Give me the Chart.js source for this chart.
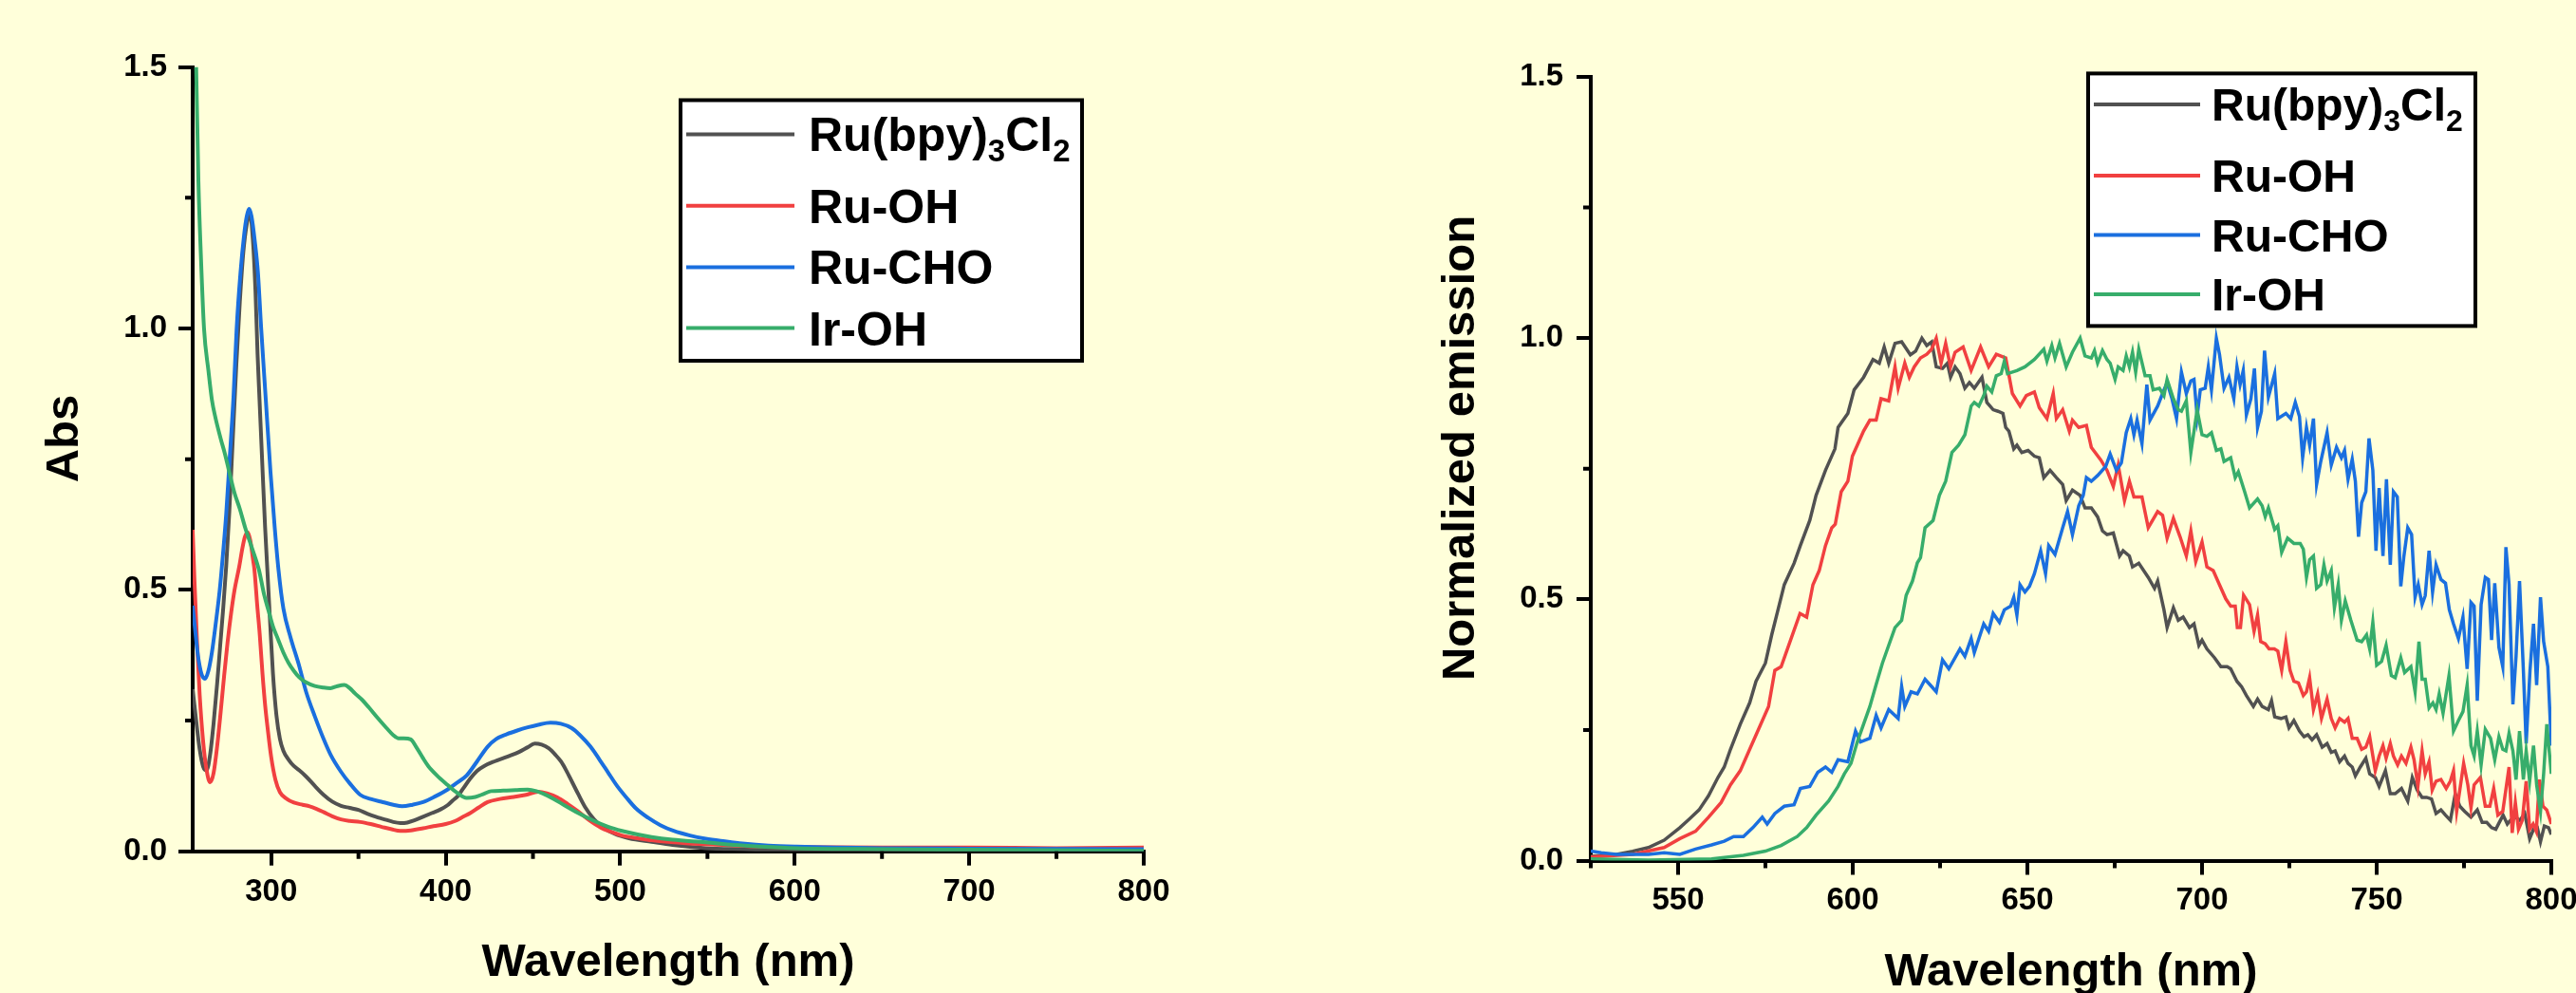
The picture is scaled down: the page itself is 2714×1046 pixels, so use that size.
<!DOCTYPE html>
<html>
<head>
<meta charset="utf-8">
<script src="https://cdn.jsdelivr.net/npm/chart.js@4.4.1/dist/chart.umd.min.js"></script>
<style>
  html, body { margin: 0; padding: 0; overflow: hidden; width: 2714px; height: 1046px; background: #FFFFDA; }
  canvas { position: absolute; top: 0; }
  #absChart { left: 0; }
  #emChart { left: 1357px; }
</style>
</head>
<body>
<canvas id="absChart" width="1357" height="1046"></canvas>
<canvas id="emChart" width="1457" height="1046"></canvas>
<script>
const FONT = '"Liberation Sans", Arial, sans-serif';

const seriesNames = ["Ru(bpy)₃Cl₂", "Ru-OH", "Ru-CHO", "Ir-OH"];
const seriesColors = ["#515151", "#F14040", "#1A6FDF", "#37AD6B"];

// UV-vis absorption: [wavelength (nm), Abs]
const absBpy = [[255,0.31],[257,0.25],[259,0.195],[261,0.162],[263,0.155],[265,0.185],[267,0.245],[269,0.32],[270.8,0.395],[272.5,0.465],[274.2,0.545],[276,0.65],[278,0.79],[280,0.93],[282,1.05],[284,1.145],[286,1.2],[287.8,1.22],[289.5,1.17],[291,1.07],[292.2,0.95],[293.3,0.864],[295.1,0.725],[296.5,0.62],[297.8,0.538],[299.5,0.43],[301,0.34],[303,0.26],[305,0.215],[307,0.192],[310,0.175],[313,0.163],[316,0.155],[320,0.143],[325,0.125],[330,0.108],[335,0.095],[340,0.087],[345,0.083],[350,0.079],[355,0.072],[360,0.066],[364,0.062],[370,0.056],[374,0.054],[378,0.055],[382,0.059],[387,0.066],[392,0.073],[397,0.08],[401,0.088],[404,0.097],[407,0.106],[410,0.12],[414,0.139],[418,0.154],[422,0.163],[428,0.172],[433,0.178],[437,0.183],[442,0.19],[447,0.199],[451,0.206],[455,0.204],[459,0.197],[463,0.184],[466,0.172],[469,0.155],[472.5,0.132],[476,0.109],[480,0.084],[485,0.061],[490,0.046],[497,0.033],[505,0.025],[518,0.018],[530,0.012],[549,0.006],[570,0.004],[600,0.002],[700,0.001],[800,0.001]];
const absOH = [[255,0.615],[256,0.52],[257.5,0.4],[259,0.3],[261,0.21],[263,0.155],[265,0.132],[267,0.15],[269,0.2],[271,0.265],[273,0.335],[275,0.4],[277,0.455],[279,0.5],[281.7,0.545],[283.5,0.58],[285,0.602],[286.5,0.61],[288,0.595],[289.5,0.56],[290.4,0.538],[292,0.47],[293.4,0.416],[295,0.34],[296.5,0.28],[298,0.234],[300,0.18],[302.4,0.137],[305,0.113],[309,0.1],[313,0.093],[318,0.089],[322,0.086],[326,0.081],[330,0.075],[335,0.067],[340,0.061],[345,0.058],[351,0.056],[357,0.052],[363,0.047],[369,0.042],[374,0.039],[380,0.04],[387,0.044],[393,0.048],[400,0.052],[405.5,0.058],[410,0.066],[414,0.073],[419,0.084],[424,0.094],[431,0.1],[439,0.104],[446,0.108],[453,0.114],[458,0.111],[464,0.103],[470,0.09],[476,0.076],[482,0.06],[489,0.045],[495,0.037],[501,0.03],[510,0.025],[518,0.021],[539,0.015],[560,0.012],[580,0.009],[600,0.008],[650,0.007],[700,0.007],[750,0.006],[800,0.007]];
const absCHO = [[255,0.47],[256.5,0.42],[258,0.375],[260,0.34],[262,0.33],[264,0.345],[266,0.38],[268,0.43],[270.5,0.5],[272.4,0.57],[274.2,0.645],[276,0.74],[278.4,0.87],[280.2,1.0],[282.4,1.107],[284.5,1.18],[286,1.215],[287.3,1.229],[288.7,1.215],[290.5,1.17],[292.4,1.107],[294.2,1.003],[296.9,0.864],[299.6,0.725],[302,0.62],[304.2,0.538],[307,0.464],[311,0.41],[316,0.355],[320,0.305],[325,0.258],[330,0.215],[334,0.185],[340,0.152],[345,0.13],[351,0.108],[357,0.1],[364,0.094],[370,0.089],[375,0.086],[381,0.089],[387,0.094],[394,0.105],[401,0.118],[406,0.13],[412,0.145],[418,0.172],[424,0.2],[429,0.215],[435,0.224],[441,0.231],[447,0.237],[453,0.242],[460,0.246],[466,0.244],[472,0.236],[477,0.222],[483,0.2],[488,0.176],[493,0.151],[498,0.126],[503.5,0.103],[509,0.082],[516,0.064],[523,0.05],[530.6,0.039],[540,0.03],[549,0.024],[560,0.019],[570,0.015],[585,0.011],[601,0.009],[650,0.006],[700,0.005],[800,0.004]];
const absIrOH = [[255,1.9],[257,1.5],[258.3,1.28],[259.7,1.14],[261.5,1.0],[264,0.92],[266,0.864],[268,0.83],[271,0.79],[273.5,0.76],[276,0.725],[279,0.685],[282,0.655],[285,0.62],[289,0.58],[293,0.538],[296,0.49],[298.5,0.46],[301,0.43],[304,0.405],[307,0.38],[310,0.36],[313,0.345],[316,0.333],[320,0.323],[325,0.316],[330,0.313],[334,0.312],[338,0.316],[342,0.318],[345,0.312],[348,0.302],[352,0.29],[356,0.275],[361,0.255],[366,0.236],[370,0.222],[373,0.216],[376,0.216],[380,0.214],[383,0.2],[387,0.178],[390,0.163],[395,0.145],[401,0.127],[406,0.113],[412,0.102],[417,0.104],[422,0.11],[426,0.115],[433,0.116],[440,0.117],[447,0.118],[452,0.115],[456,0.11],[462,0.1],[468,0.088],[476,0.073],[485,0.058],[493,0.047],[501,0.039],[510,0.032],[518,0.027],[530,0.022],[549,0.017],[565,0.012],[580,0.009],[601,0.006],[650,0.004],[700,0.003],[800,0.001]];

// normalized emission: [wavelength (nm), intensity]
const emBpy = [[525,0.008],[532.4,0.012],[537,0.018],[541.5,0.025],[546,0.039],[550.5,0.063],[553.3,0.08],[556,0.097],[558.7,0.124],[561.4,0.159],[563.2,0.179],[565,0.213],[567.8,0.261],[570.5,0.302],[572.3,0.343],[575,0.378],[576.8,0.432],[578.6,0.48],[580.4,0.528],[583.2,0.569],[585,0.603],[587.7,0.651],[589.5,0.699],[592.2,0.747],[594.9,0.788],[595.8,0.829],[598.6,0.856],[600.4,0.901],[603.1,0.925],[605.8,0.959],[607.6,0.952],[609,0.983],[610.3,0.952],[612.1,0.99],[614,0.993],[616.5,0.968],[618,0.975],[619.8,1.0],[621.2,0.986],[622.6,0.993],[623.9,0.945],[625.7,0.942],[627.1,0.952],[628,0.925],[629.3,0.945],[630.7,0.932],[632.1,0.904],[633.4,0.915],[634.8,0.904],[637,0.925],[638.4,0.877],[640.2,0.863],[641.6,0.86],[643,0.856],[643.8,0.829],[644.7,0.822],[646.1,0.788],[647,0.795],[648.4,0.781],[650.2,0.785],[652,0.774],[653.4,0.771],[654.7,0.733],[656.5,0.747],[658.3,0.733],[660.1,0.72],[661.1,0.689],[662.9,0.709],[665.1,0.699],[666.5,0.675],[668.3,0.675],[670.1,0.658],[671.5,0.631],[672.8,0.624],[674.6,0.627],[676.4,0.583],[677.4,0.593],[679.2,0.583],[680.1,0.562],[681.9,0.569],[684.6,0.542],[686.4,0.521],[687.3,0.535],[689.1,0.48],[690,0.446],[691.8,0.484],[693.2,0.46],[694.6,0.466],[696.4,0.446],[697.7,0.453],[699.1,0.412],[700,0.422],[701.4,0.405],[703.6,0.388],[705.4,0.371],[707.2,0.371],[708.2,0.367],[710,0.343],[711.3,0.333],[712.7,0.316],[714.7,0.295],[715.9,0.309],[717.2,0.295],[719,0.289],[719.9,0.306],[720.8,0.275],[722.6,0.272],[724,0.275],[724.9,0.254],[726.3,0.268],[727.9,0.248],[729.2,0.237],[730.3,0.241],[731.5,0.231],[732.8,0.241],[734.4,0.217],[735.8,0.224],[737,0.207],[738.1,0.21],[739.4,0.189],[740.8,0.2],[741.8,0.186],[743,0.179],[743.9,0.162],[745.3,0.179],[746.9,0.196],[748,0.166],[749.6,0.159],[750.7,0.142],[752.5,0.172],[753.9,0.128],[755.3,0.128],[757.1,0.138],[758.9,0.114],[760.2,0.159],[761.6,0.135],[763,0.121],[764.3,0.121],[765.7,0.118],[767,0.09],[768.4,0.097],[769.7,0.087],[771.1,0.077],[772.5,0.128],[773.8,0.104],[775.2,0.094],[777,0.083],[778.8,0.097],[780.2,0.073],[781.5,0.073],[782.9,0.063],[784.1,0.06],[785.1,0.073],[786.2,0.087],[787.4,0.07],[788.3,0.077],[789.7,0.083],[791,0.077],[792.4,0.09],[793.8,0.042],[794.9,0.06],[796,0.063],[796.9,0.036],[798,0.066],[799.2,0.063],[800,0.05]];
const emOH = [[525,0.007],[537,0.012],[546,0.025],[550.5,0.042],[555,0.056],[558.7,0.083],[562.3,0.111],[565,0.145],[567.8,0.172],[570.5,0.213],[573.2,0.254],[575.9,0.295],[577.7,0.364],[579.5,0.371],[581.3,0.405],[584.9,0.473],[586.8,0.466],[588.6,0.528],[590.4,0.555],[592.2,0.603],[594,0.637],[595,0.644],[596.7,0.706],[598.6,0.726],[599.9,0.774],[601.3,0.795],[603.1,0.822],[604.9,0.843],[606.7,0.843],[608.1,0.884],[610.3,0.88],[612.1,0.945],[613,0.904],[614.9,0.952],[616.2,0.925],[617.6,0.945],[619.4,0.962],[621.2,0.969],[622.6,0.979],[623.9,1.0],[625.3,0.952],[626.6,0.99],[628,0.945],[629.3,0.973],[631.6,0.983],[633.9,0.938],[636.6,0.983],[638.9,0.945],[641.1,0.969],[643.8,0.962],[645.7,0.894],[647.9,0.87],[649.7,0.89],[652,0.897],[653.4,0.867],[655.6,0.846],[657.4,0.894],[658.3,0.846],[660.1,0.863],[662,0.822],[662.9,0.843],[664.7,0.829],[666.9,0.833],[668.3,0.791],[671,0.767],[672.8,0.747],[674.6,0.716],[676,0.757],[677.8,0.689],[679.2,0.726],[680.5,0.696],[682.8,0.696],[684.6,0.637],[687.3,0.668],[688.7,0.661],[690,0.617],[691.8,0.655],[693.7,0.62],[695.5,0.583],[696.8,0.631],[698.2,0.572],[700,0.61],[701.4,0.562],[703.2,0.555],[705,0.528],[706.8,0.501],[708.2,0.487],[709.5,0.487],[710.1,0.446],[711,0.446],[711.9,0.508],[713.6,0.49],[714.9,0.439],[715.9,0.47],[716.8,0.419],[718.1,0.415],[719.2,0.405],[720.7,0.405],[721.7,0.401],[722.8,0.364],[724,0.419],[725.2,0.364],[726.3,0.343],[727.6,0.34],[729,0.316],[729.9,0.323],[730.8,0.35],[731.9,0.289],[733.1,0.319],[734.2,0.272],[735.8,0.309],[737,0.272],[738.1,0.254],[739.4,0.272],[740.8,0.265],[741.8,0.272],[743,0.234],[744.4,0.234],[745.7,0.213],[746.9,0.217],[748,0.237],[749.6,0.172],[750.7,0.2],[751.8,0.22],[752.7,0.196],[753.9,0.224],[754.8,0.2],[756,0.183],[757.1,0.2],[758.4,0.186],[759.8,0.217],[760.7,0.193],[761.8,0.142],[763,0.21],[763.9,0.166],[765,0.189],[765.9,0.135],[767,0.152],[768.4,0.155],[769.9,0.138],[771.1,0.152],[772,0.172],[772.9,0.094],[773.8,0.135],[774.9,0.186],[776.1,0.145],[777,0.101],[777.9,0.145],[779.7,0.159],[781.1,0.104],[782.4,0.104],[783.5,0.138],[784.7,0.087],[786.1,0.094],[787.9,0.179],[788.8,0.053],[789.7,0.111],[790.6,0.06],[791.7,0.077],[792.8,0.152],[793.8,0.06],[794.8,0.07],[795.7,0.056],[796.6,0.155],[797.6,0.104],[798.7,0.097],[800,0.07]];
const emCHO = [[525,0.018],[528,0.015],[532.4,0.012],[537,0.012],[541.5,0.012],[546,0.015],[550.5,0.012],[555,0.022],[559.6,0.03],[563.2,0.037],[565.9,0.046],[568.7,0.046],[571.4,0.063],[574.1,0.083],[575.5,0.07],[577.7,0.09],[580.4,0.104],[583.2,0.107],[585,0.138],[587.7,0.142],[590,0.169],[592.2,0.179],[594,0.169],[595.8,0.193],[598.6,0.189],[600.8,0.248],[602.2,0.227],[604.9,0.234],[606.7,0.278],[608.1,0.254],[610.3,0.289],[613,0.272],[614,0.333],[614.9,0.295],[616.7,0.323],[618.5,0.319],[620.7,0.347],[622.6,0.333],[623.9,0.323],[625.7,0.384],[627.5,0.367],[630.7,0.405],[632.1,0.391],[633.9,0.425],[634.8,0.398],[637.5,0.453],[638.9,0.439],[640.2,0.473],[642,0.456],[643.4,0.48],[645.2,0.487],[646.1,0.504],[647,0.47],[647.9,0.528],[649.3,0.514],[650.6,0.525],[652,0.549],[653.8,0.593],[655.2,0.549],[656.1,0.603],[657.9,0.586],[660.1,0.637],[661.5,0.668],[662.9,0.624],[664.7,0.679],[666,0.699],[666.9,0.733],[668.3,0.726],[670.1,0.737],[672.4,0.754],[673.7,0.778],[675.5,0.747],[676.9,0.761],[678.3,0.819],[679.6,0.846],[680.5,0.815],[681.4,0.843],[682.8,0.798],[684.2,0.911],[685.1,0.843],[687.3,0.87],[688.7,0.894],[690,0.915],[691.4,0.884],[692.7,0.846],[694.1,0.935],[695.5,0.894],[696.8,0.918],[697.7,0.921],[698.6,0.85],[699.5,0.901],[700.9,0.904],[701.8,0.945],[702.7,0.901],[704.1,1.0],[705,0.969],[706.3,0.904],[707.7,0.925],[709.1,0.884],[710,0.945],[710.9,0.911],[711.8,0.938],[712.7,0.853],[714,0.884],[715,0.942],[715.9,0.829],[717,0.86],[717.9,0.976],[719,0.887],[720.8,0.932],[721.7,0.846],[724,0.856],[725.4,0.846],[726.7,0.877],[727.9,0.85],[728.8,0.771],[729.9,0.829],[730.8,0.795],[731.9,0.846],[732.8,0.72],[734,0.764],[735.8,0.819],[737,0.757],[738.5,0.791],[739.9,0.771],[740.8,0.785],[741.8,0.73],[743,0.768],[743.9,0.726],[744.8,0.62],[745.7,0.685],[746.9,0.706],[747.8,0.808],[748.9,0.747],[749.8,0.593],[750.7,0.713],[751.8,0.583],[752.8,0.73],[753.9,0.566],[754.8,0.706],[755.9,0.696],[756.9,0.525],[757.8,0.583],[758.9,0.637],[760,0.624],[761,0.504],[761.9,0.528],[763,0.49],[763.9,0.507],[765,0.593],[766,0.514],[767,0.566],[768.4,0.538],[769.7,0.531],[770.8,0.48],[772,0.453],[773.4,0.425],[774.7,0.466],[775.9,0.367],[777,0.494],[777.9,0.487],[778.8,0.306],[779.9,0.49],[781.1,0.542],[782,0.538],[782.9,0.422],[783.8,0.531],[785,0.408],[786.1,0.371],[787,0.6],[787.9,0.528],[789,0.299],[789.9,0.391],[790.9,0.535],[792,0.364],[792.8,0.224],[793.9,0.364],[794.9,0.453],[795.8,0.336],[796.9,0.504],[797.8,0.419],[799,0.371],[800,0.22]];
const emIrOH = [[525,0.003],[541.5,0.001],[559.6,0.003],[568.7,0.01],[575,0.018],[579.5,0.029],[584.1,0.046],[586.8,0.063],[589.5,0.087],[593.1,0.114],[595.8,0.142],[597.6,0.166],[599.5,0.186],[601.3,0.227],[603.1,0.261],[604.9,0.295],[606.7,0.337],[608.5,0.378],[610.3,0.412],[612.1,0.446],[614,0.46],[615.3,0.508],[617.1,0.535],[618.5,0.57],[619.4,0.58],[620.7,0.637],[623,0.651],[624.8,0.699],[626.6,0.726],[628.4,0.781],[630.3,0.795],[632.1,0.815],[633.9,0.87],[634.8,0.877],[636.1,0.87],[637.5,0.89],[638.4,0.908],[639.8,0.897],[641.1,0.928],[642.5,0.932],[643.4,0.956],[644.3,0.932],[647,0.938],[649.3,0.945],[652,0.959],[654.7,0.979],[655.6,0.956],[657,0.986],[657.9,0.962],[659.2,0.99],[661.1,0.945],[662.9,0.973],[665.1,1.0],[666.5,0.966],[668.3,0.962],[669.2,0.976],[670.1,0.952],[671.5,0.976],[672.8,0.959],[673.7,0.952],[675.1,0.921],[676,0.945],[677.4,0.938],[678.3,0.966],[679.2,0.945],[680.1,0.973],[681,0.935],[681.9,0.979],[683.7,0.928],[685.1,0.928],[686,0.901],[687.8,0.904],[689.1,0.89],[690,0.921],[691.8,0.884],[693.2,0.863],[694.1,0.86],[695.5,0.88],[696.8,0.781],[698.6,0.863],[700,0.815],[701.4,0.812],[702.7,0.819],[704.1,0.785],[705.4,0.788],[706.3,0.764],[708.2,0.771],[709.5,0.733],[710.4,0.744],[712.2,0.706],[713.6,0.675],[715.9,0.692],[717.2,0.679],[718.1,0.658],[719,0.675],[720.8,0.634],[721.7,0.641],[722.8,0.59],[724.5,0.617],[726.3,0.607],[728.1,0.607],[729,0.596],[729.9,0.542],[730.8,0.576],[731.9,0.583],[732.8,0.521],[734,0.528],[734.9,0.566],[735.8,0.535],[737,0.555],[737.9,0.484],[739,0.528],[739.9,0.46],[741,0.497],[742.6,0.46],[744.4,0.422],[745.7,0.419],[747.1,0.432],[748,0.405],[748.9,0.456],[750,0.374],[751.4,0.381],[752.7,0.412],[754.2,0.354],[755.3,0.35],[756.9,0.388],[758,0.36],[759.8,0.371],[761,0.323],[762.1,0.419],[763,0.347],[763.9,0.347],[765,0.292],[766.1,0.302],[767,0.289],[767.9,0.319],[769,0.282],[770.7,0.354],[772,0.248],[773.4,0.268],[774.7,0.285],[775.9,0.336],[777,0.22],[777.9,0.2],[778.8,0.248],[779.9,0.183],[781.1,0.251],[782.6,0.234],[783.8,0.193],[785,0.237],[786.1,0.213],[787,0.21],[787.9,0.244],[789,0.21],[789.9,0.155],[790.9,0.248],[792,0.155],[792.8,0.21],[793.8,0.152],[794.9,0.22],[795.8,0.145],[796.9,0.094],[797.8,0.166],[798.7,0.261],[800,0.166]];

const absXTicks = [300, 400, 500, 600, 700, 800];
const absXMinor = [350, 450, 550, 650, 750];
const emXTicks = [550, 600, 650, 700, 750, 800];
const emXMinor = [525, 575, 625, 675, 725, 775];
const yTicks = [0, 0.5, 1.0, 1.5];
const yMinor = [0.25, 0.75, 1.25];

// unicode subscripts in the labels get drawn as smaller, lowered digits
const SUB = { "₀": "0", "₁": "1", "₂": "2", "₃": "3", "₄": "4" };

function drawLabel(ctx, text, x, y, size) {
  const runs = [];
  for (const ch of text) {
    const sub = ch in SUB;
    const c = sub ? SUB[ch] : ch;
    const last = runs[runs.length - 1];
    if (last && last.sub === sub) last.t += c;
    else runs.push({ t: c, sub });
  }
  runs.forEach(r => {
    ctx.font = `bold ${r.sub ? Math.round(size * 0.66) : size}px ${FONT}`;
    ctx.fillText(r.t, x, r.sub ? y + size * 0.22 : y);
    x += ctx.measureText(r.t).width;
  });
}

const extras = {
  id: "extras",
  afterDraw(chart, args, o) {
    const { ctx, chartArea: a } = chart;
    const xs = chart.scales.x, ys = chart.scales.y;
    ctx.save();

    // minor ticks
    ctx.strokeStyle = "#000";
    ctx.lineWidth = 4;
    ctx.beginPath();
    o.xMinor.forEach(v => {
      const p = xs.getPixelForValue(v);
      ctx.moveTo(p, a.bottom); ctx.lineTo(p, a.bottom + 8);
    });
    yMinor.forEach(v => {
      const p = ys.getPixelForValue(v);
      ctx.moveTo(a.left, p); ctx.lineTo(a.left - 8, p);
    });
    ctx.stroke();

    // axis titles
    ctx.fillStyle = "#000";
    ctx.font = `bold 49px ${FONT}`;
    ctx.textAlign = "center";
    ctx.textBaseline = "alphabetic";
    ctx.fillText(o.xTitle, (a.left + a.right) / 2, o.xTitleY);
    ctx.save();
    ctx.translate(o.yTitleX, o.yTitleY);
    ctx.rotate(-Math.PI / 2);
    ctx.fillText(o.yTitle, 0, 0);
    ctx.restore();

    // legend box
    const L = o.legend;
    ctx.fillStyle = "#fff";
    ctx.fillRect(L.x, L.y, L.w, L.h);
    ctx.strokeStyle = "#000";
    ctx.lineWidth = 4;
    ctx.strokeRect(L.x, L.y, L.w, L.h);
    ctx.textAlign = "left";
    chart.data.datasets.forEach((ds, i) => {
      const cy = L.rows[i];
      ctx.strokeStyle = ds.borderColor;
      ctx.lineWidth = 4;
      ctx.beginPath();
      ctx.moveTo(L.lineX0, cy); ctx.lineTo(L.lineX1, cy);
      ctx.stroke();
      ctx.fillStyle = "#000";
      drawLabel(ctx, ds.label, L.textX, cy + L.size * 0.358, L.size);
    });
    ctx.restore();
  }
};

function makeChart(id, sets, cfg) {
  const tickFont = { family: FONT, size: 33, weight: "bold" };
  const grid = { drawOnChartArea: false, color: "#000", lineWidth: 4, tickLength: 15 };
  const border = { display: true, color: "#000", width: 4 };
  return new Chart(document.getElementById(id), {
    type: "line",
    data: {
      datasets: sets.map((d, i) => ({
        label: seriesNames[i],
        data: d.map(([x, y]) => ({ x, y })),
        borderColor: seriesColors[i],
        borderWidth: cfg.lineWidth,
        pointRadius: 0,
        fill: false,
        tension: cfg.smooth ? 0.4 : 0,
        cubicInterpolationMode: cfg.smooth ? "monotone" : "default",
        order: 4 - i
      }))
    },
    options: {
      responsive: false,
      animation: false,
      devicePixelRatio: 1,
      events: [],
      layout: { padding: cfg.padding },
      plugins: { legend: { display: false }, tooltip: { enabled: false }, extras: cfg.extras },
      scales: {
        x: {
          type: "linear", min: cfg.xMin, max: 800,
          afterFit: s => { s.height = cfg.xHeight; },
          afterBuildTicks: s => { s.ticks = cfg.xTicks.map(v => ({ value: v })); },
          ticks: { font: tickFont, color: "#000", padding: 8, maxRotation: 0, callback: v => String(v) },
          grid, border
        },
        y: {
          type: "linear", min: 0, max: 1.5,
          afterFit: s => { s.width = cfg.yWidth; },
          afterBuildTicks: s => { s.ticks = yTicks.map(v => ({ value: v })); },
          ticks: { font: tickFont, color: "#000", padding: cfg.yPad, callback: v => v.toFixed(1) },
          grid, border
        }
      }
    },
    plugins: [extras]
  });
}

makeChart("absChart", [absBpy, absOH, absCHO, absIrOH], {
  smooth: true, lineWidth: 4, xMin: 255, xTicks: absXTicks,
  padding: { left: 0, top: 70.7, right: 152, bottom: 0 },
  yWidth: 203, xHeight: 149.3, yPad: 12,
  extras: {
    xMinor: absXMinor, xTitle: "Wavelength (nm)", xTitleY: 1028,
    yTitle: "Abs", yTitleX: 81.5, yTitleY: 462,
    legend: { x: 717, y: 105.5, w: 423, h: 274.5, rows: [141.4, 216.8, 281.5, 345.6],
              lineX0: 723, lineX1: 837, textX: 852, size: 50 }
  }
});

makeChart("emChart", [emBpy, emOH, emCHO, emIrOH], {
  smooth: false, lineWidth: 3.5, xMin: 525, xTicks: emXTicks,
  padding: { left: 0, top: 81, right: 126, bottom: 0 },
  yWidth: 319, xHeight: 139.5, yPad: 14,
  extras: {
    xMinor: emXMinor, xTitle: "Wavelength (nm)", xTitleY: 1038,
    yTitle: "Normalized emission", yTitleX: 195.5, yTitleY: 472,
    legend: { x: 843, y: 77.4, w: 408, h: 266, rows: [110, 185, 247.5, 310],
              lineX0: 849, lineX1: 961, textX: 973, size: 48 }
  }
});
</script>
</body>
</html>
